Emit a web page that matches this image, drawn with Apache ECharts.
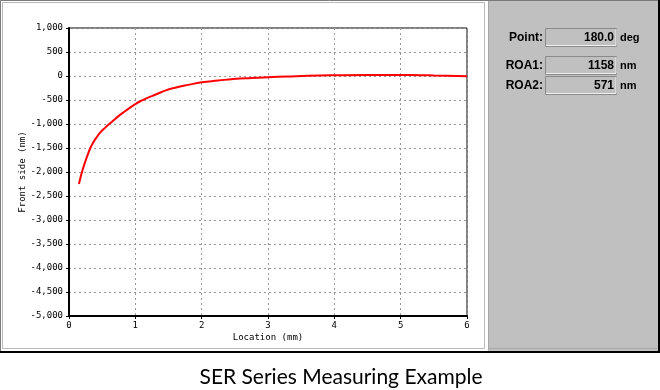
<!DOCTYPE html>
<html>
<head>
<meta charset="utf-8">
<script src="https://cdn.jsdelivr.net/npm/echarts@6/dist/echarts.min.js"></script>
<style>
html,body{margin:0;padding:0;background:#fff;}
#c{width:660px;height:390px;}
</style>
</head>
<body>
<div id="c"></div>
<script>
// Data
var locationMm = [0.15, 0.18, 0.21, 0.24, 0.28, 0.32, 0.37, 0.42, 0.47, 0.55, 0.62, 0.7, 0.77, 0.85, 0.92, 1.0, 1.1, 1.2, 1.3, 1.47, 1.6, 1.8, 2.0, 2.25, 2.48, 2.75, 3.0, 3.3, 3.6, 4.0, 4.5, 5.0, 5.3, 5.5, 5.85, 6.0];
var frontSideNm = [-2250, -2080, -1935, -1805, -1650, -1505, -1375, -1270, -1180, -1070, -985, -890, -810, -730, -660, -585, -510, -445, -390, -295, -245, -185, -132, -95, -62, -40, -25, -10, 5, 15, 20, 20, 18, 10, 0, -5];
var xTicks = [0, 1, 2, 3, 4, 5, 6];
var yTicks = [1000, 500, 0, -500, -1000, -1500, -2000, -2500, -3000, -3500, -4000, -4500, -5000];
var infoLabels = ['Point:', 'ROA1:', 'ROA2:'];
var infoValues = ['180.0', '1158', '571'];
var infoUnits = ['deg', 'nm', 'nm'];
var xTitle = 'Location (mm)';
var yTitle = 'Front side (nm)';
var caption = 'SER Series Measuring Example';

var seriesData = locationMm.map(function (x, i) { return [x, frontSideNm[i]]; });

function fmt(v) {
  var s = Math.abs(v).toString();
  s = s.replace(/\B(?=(\d{3})+(?!\d))/g, ',');
  return (v < 0 ? '-' : '') + s;
}

var labelFont = '"DejaVu Sans Mono", monospace';
var boldFont = '"Liberation Sans", Arial, sans-serif';

var graphics = [
  { type: 'rect', z: -10, silent: true, shape: { x: 0.5, y: 0.5, width: 658, height: 351 }, style: { fill: '#ffffff', stroke: '#7a7a7a', lineWidth: 1 } },
  { type: 'line', z: -9, silent: true, shape: { x1: 0, y1: 352, x2: 660, y2: 352 }, style: { stroke: '#000', lineWidth: 2 } },
  { type: 'line', z: -9, silent: true, shape: { x1: 659, y1: 0, x2: 659, y2: 353 }, style: { stroke: '#000', lineWidth: 2 } },
  { type: 'rect', z: -9, silent: true, shape: { x: 2.5, y: 2.5, width: 482, height: 346 }, style: { fill: 'none', stroke: '#b8b8b8', lineWidth: 1 } },
  { type: 'rect', z: -9, silent: true, shape: { x: 488, y: 1, width: 170, height: 350 }, style: { fill: '#c0c0c0' } },
  { type: 'line', z: -8, silent: true, shape: { x1: 488.5, y1: 1, x2: 488.5, y2: 350 }, style: { stroke: '#a8a8a8', lineWidth: 1 } },
  { type: 'line', z: -8, silent: true, shape: { x1: 489, y1: 348.5, x2: 658, y2: 348.5 }, style: { stroke: '#a8a8a8', lineWidth: 1 } }
];

var boxTops = [28, 56, 76];
var boxHeight = 18;
for (var i = 0; i < infoLabels.length; i++) {
  var bt = boxTops[i], bh = boxHeight;
  graphics.push({ type: 'rect', z: 5, silent: true, shape: { x: 545.5, y: bt + 0.5, width: 71, height: bh }, style: { fill: '#c0c0c0', stroke: '#8a8a8a', lineWidth: 1 } });
  graphics.push({ type: 'polyline', z: 6, silent: true, shape: { points: [[546, bt + bh - 0.5], [616, bt + bh - 0.5], [616, bt + 1]] }, style: { fill: 'none', stroke: '#f0f0f0', lineWidth: 1 } });
  graphics.push({ type: 'text', z: 7, silent: true, style: { x: 543, y: bt + bh / 2 + 1, text: infoLabels[i], font: 'bold 12px ' + boldFont, fill: '#000', align: 'right', verticalAlign: 'middle' } });
  graphics.push({ type: 'text', z: 7, silent: true, style: { x: 614, y: bt + bh / 2 + 1, text: infoValues[i], font: 'bold 12px ' + boldFont, fill: '#000', align: 'right', verticalAlign: 'middle' } });
  graphics.push({ type: 'text', z: 7, silent: true, style: { x: 620, y: bt + bh / 2 + 1, text: infoUnits[i], font: 'bold 11px ' + boldFont, fill: '#000', align: 'left', verticalAlign: 'middle' } });
}
graphics.push({ type: 'text', z: 7, silent: true, style: { x: 341, y: 377, text: caption, font: '21px Lato, "Open Sans", sans-serif', fill: '#000', align: 'center', verticalAlign: 'middle' } });

var chart = echarts.init(document.getElementById('c'), null, { renderer: 'canvas' });
chart.setOption({
  animation: false,
  backgroundColor: 'transparent',
  grid: { left: 69, top: 28, right: 193, bottom: 74, show: true, borderColor: '#000', borderWidth: 1, backgroundColor: 'transparent' },
  xAxis: {
    type: 'value', min: 0, max: 6, interval: 1,
    name: xTitle, nameLocation: 'middle', nameGap: 17, nameMoveOverlap: false,
    nameTextStyle: { fontFamily: labelFont, fontSize: 9, color: '#000' },
    axisLine: { show: true, onZero: false, lineStyle: { color: '#000', width: 2 } },
    axisTick: { show: true, length: 3, lineStyle: { color: '#000' } },
    axisLabel: { color: '#000', fontFamily: labelFont, fontSize: 9, margin: 5, formatter: function (v) { return xTicks.indexOf(v) >= 0 ? String(v) : ''; } },
    splitLine: { show: true, lineStyle: { color: '#999', type: [2, 3], width: 1 } }
  },
  yAxis: {
    type: 'value', min: -5000, max: 1000, interval: 500,
    name: yTitle, nameLocation: 'middle', nameGap: 42, nameRotate: 90, nameMoveOverlap: false,
    nameTextStyle: { fontFamily: labelFont, fontSize: 9, color: '#000' },
    axisLine: { show: true, onZero: false, lineStyle: { color: '#000', width: 2 } },
    axisTick: { show: true, length: 3, lineStyle: { color: '#000' } },
    axisLabel: { color: '#000', fontFamily: labelFont, fontSize: 9, margin: 6, formatter: function (v) { return yTicks.indexOf(v) >= 0 ? fmt(v) : ''; } },
    splitLine: { show: true, lineStyle: { color: '#999', type: [2, 3], width: 1 } }
  },
  series: [{
    type: 'line', data: seriesData, smooth: 0.5, showSymbol: false,
    lineStyle: { color: '#ff0000', width: 2 }, clip: true
  }],
  graphic: graphics
});
</script>
</body>
</html>
